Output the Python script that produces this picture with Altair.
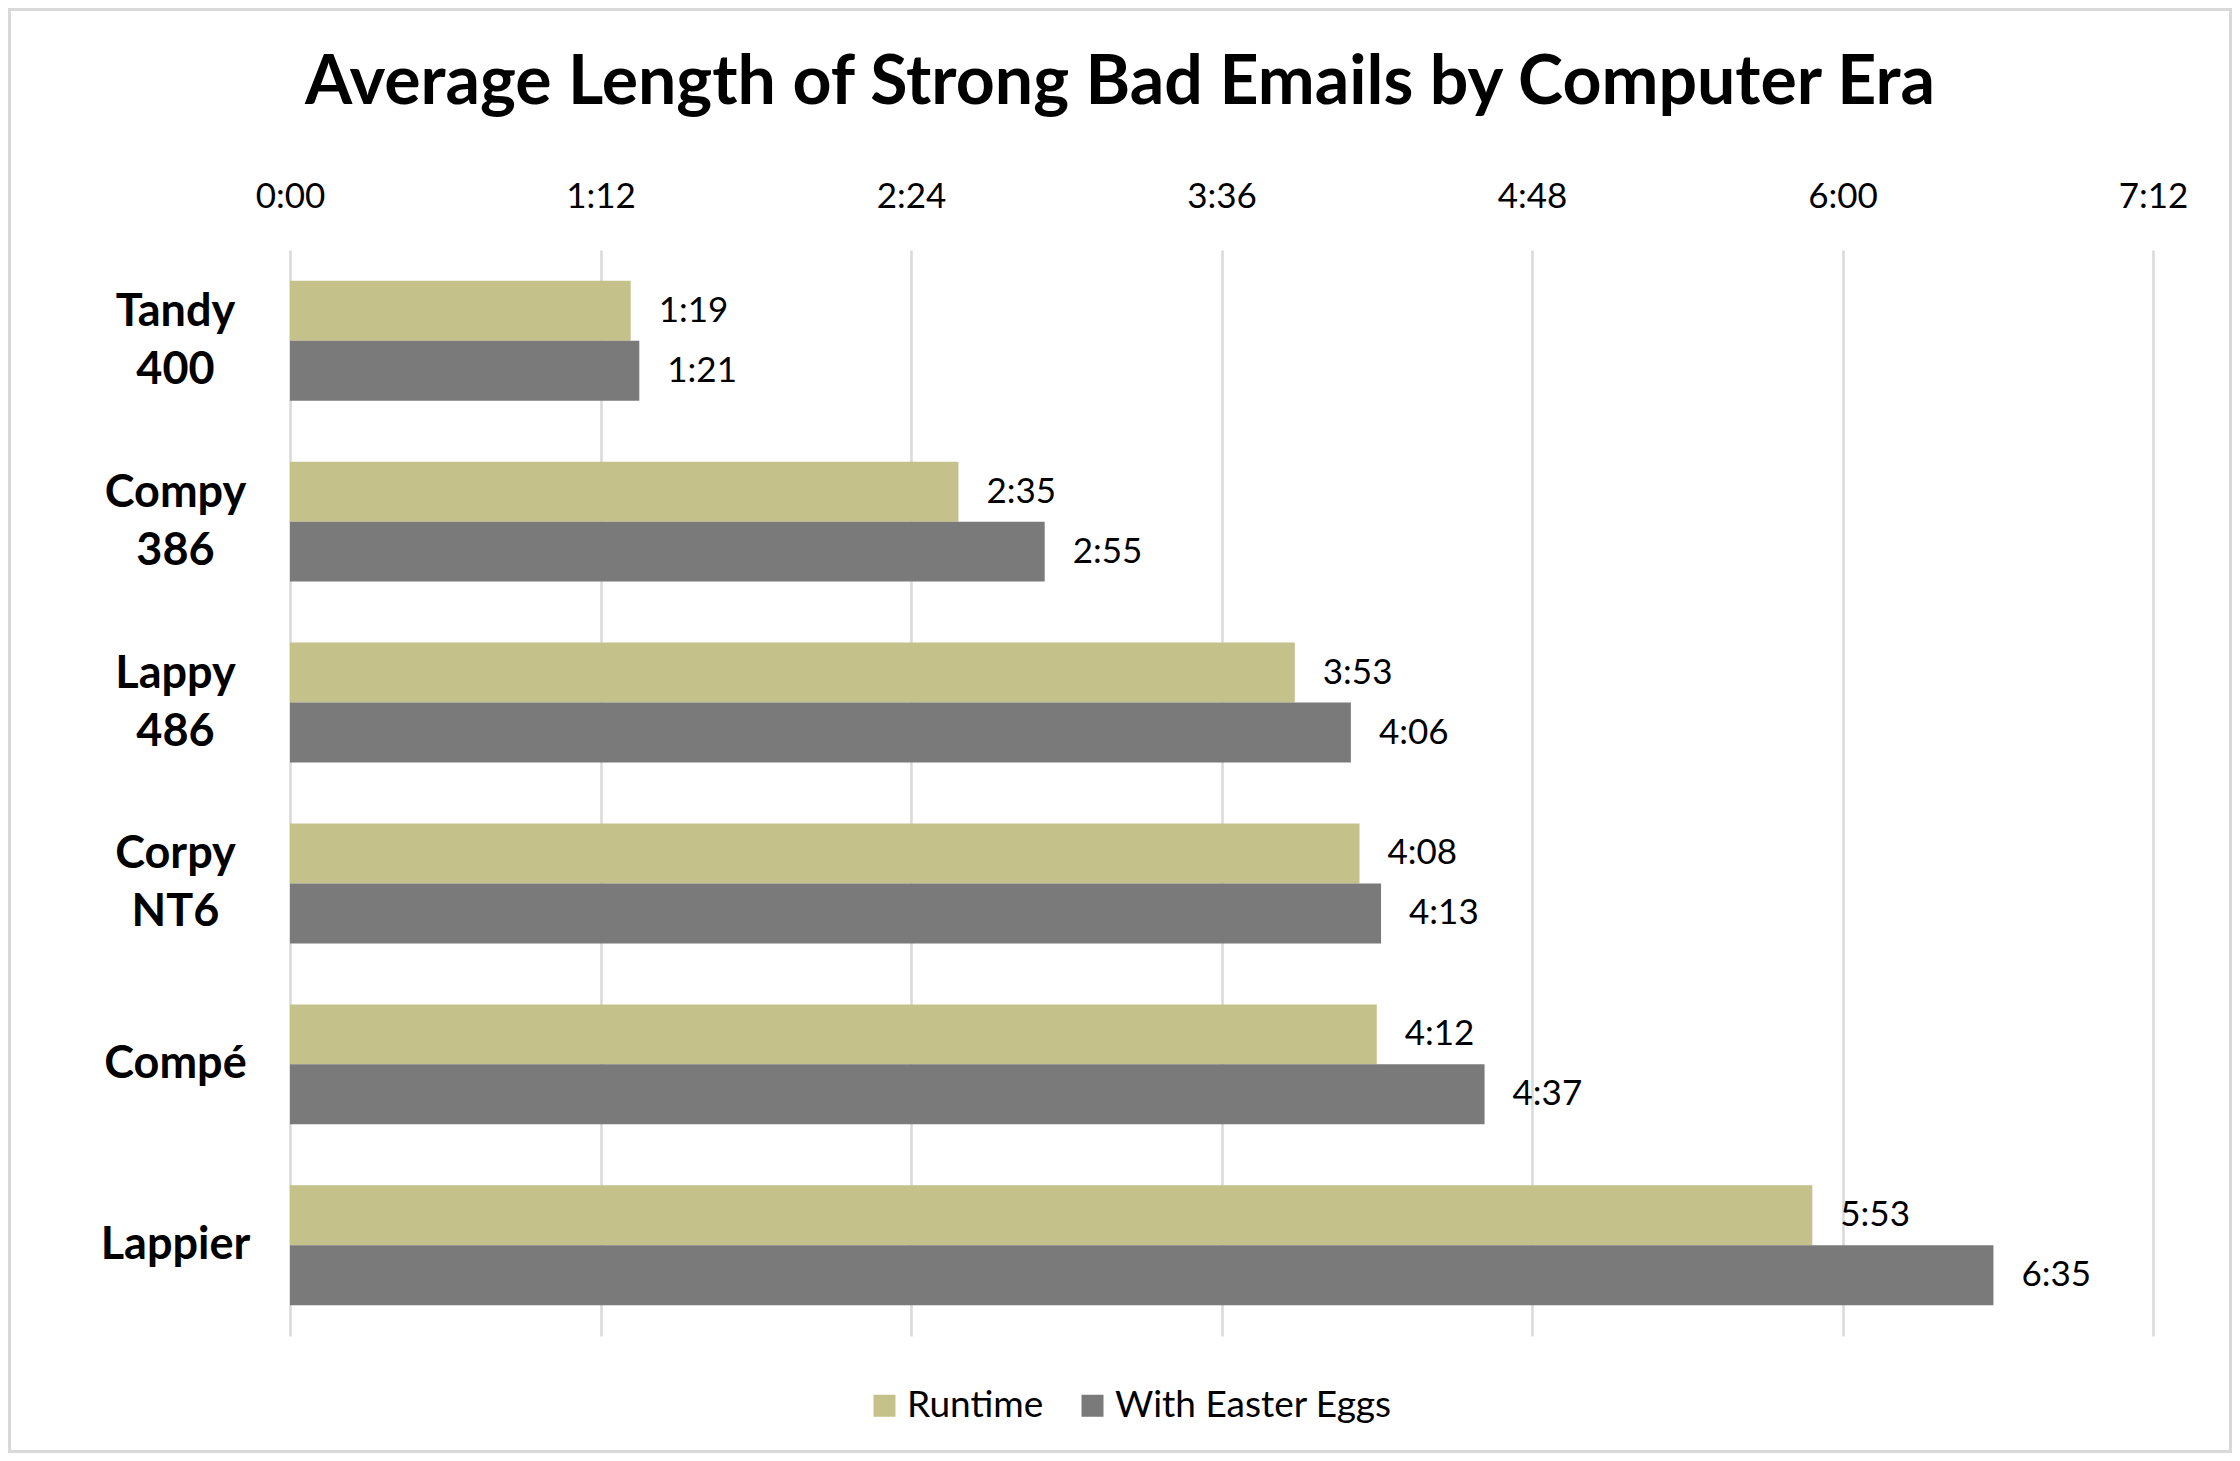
import altair as alt
import pandas as pd

# ---- data (seconds) ----
categories = ["Tandy 400", "Compy 386", "Lappy 486", "Corpy NT6", "Compé", "Lappier"]
series = ["Runtime", "With Easter Eggs"]
runtime_sec = [79, 155, 233, 248, 252, 353]
easter_sec = [81, 175, 246, 253, 277, 395]
x_ticks = [0, 72, 144, 216, 288, 360, 432]
colors = ["#C4C18A", "#7A7A7A"]
title_text = "Average Length of Strong Bad Emails by Computer Era"

rows = []
for c, r, e in zip(categories, runtime_sec, easter_sec):
    rows.append({"era": c, "series": series[0], "sec": r})
    rows.append({"era": c, "series": series[1], "sec": e})
df = pd.DataFrame(rows)

FONT = "Lato"
W, H = 1863, 1086
PAD = {"left": 282, "top": 242, "right": 79, "bottom": 117}

tick_fmt = "floor(datum.value/60) + ':' + (datum.value % 60 < 10 ? '0' : '') + (datum.value % 60)"
lab_fmt = "floor(datum.sec/60) + ':' + (datum.sec % 60 < 10 ? '0' : '') + (datum.sec % 60)"

base = alt.Chart(df).transform_calculate(label=lab_fmt).encode(
    y=alt.Y(
        "era:N",
        sort=categories,
        scale=alt.Scale(paddingInner=0.337, paddingOuter=0.17),
        axis=alt.Axis(
            title=None,
            labelExpr="split(datum.label, ' ')",
            labelAlign="center",
            labelBaseline="middle",
            labelPadding=115,
            labelOffset={"condition": {"test": "indexof(datum.value, ' ') >= 0", "value": -29}, "value": 0},
            labelFont=FONT,
            labelFontSize=45,
            labelFontWeight="bold",
            labelColor="#000000",
            labelLineHeight=58,
            ticks=False,
            domain=False,
            grid=False,
        ),
    ),
    yOffset=alt.YOffset("series:N", sort=series),
    x=alt.X(
        "sec:Q",
        scale=alt.Scale(domain=[0, 432], nice=False),
        axis=alt.Axis(
            orient="top",
            values=x_ticks,
            labelExpr=tick_fmt,
            title=None,
            grid=True,
            gridColor="#D9D9D9",
            gridWidth=2.5,
            ticks=False,
            domain=False,
            labelPadding=36,
            labelFont=FONT,
            labelFontSize=35,
            labelColor="#000000",
            labelFlush=False,
        ),
    ),
)

bars = base.mark_bar().encode(
    color=alt.Color(
        "series:N",
        sort=series,
        scale=alt.Scale(domain=series, range=colors),
        legend=alt.Legend(
            title=None,
            orient="none",
            legendX=576,
            legendY=1137,
            direction="horizontal",
            symbolType="square",
            symbolSize=484,
            symbolStrokeWidth=0,
            labelFont=FONT,
            labelFontSize=37,
            labelColor="#000000",
            labelOffset=4,
            labelLimit=800,
            columnPadding=30,
            padding=0,
        ),
    )
)

text = base.mark_text(
    align="left", baseline="middle", dx=28, font=FONT, fontSize=35, color="#000000"
).encode(text="label:N")

one = pd.DataFrame({"t": [title_text]})

title = alt.Chart(one).mark_text(
    align="center", baseline="alphabetic", font=FONT, fontSize=68, fontWeight="bold", color="#000000"
).encode(text="t:N", x=alt.value(830), y=alt.value(-146))

border = alt.Chart(one).mark_rect(
    fillOpacity=0, stroke="#D9D9D9", strokeWidth=3
).encode(
    x=alt.value(-PAD["left"] + 1.5),
    x2=alt.value(W + PAD["right"] - 1.5),
    y=alt.value(-PAD["top"] + 1.5),
    y2=alt.value(H + PAD["bottom"] - 1.5),
)

chart = (
    alt.layer(bars, text, title, border)
    .properties(
        width=W,
        height=H,
        padding=PAD,
        autosize=alt.AutoSizeParams(type="none"),
        background="white",
    )
    .configure_view(stroke="transparent")
)

chart.save("out.html", embed_options={"renderer": "svg", "actions": False})
